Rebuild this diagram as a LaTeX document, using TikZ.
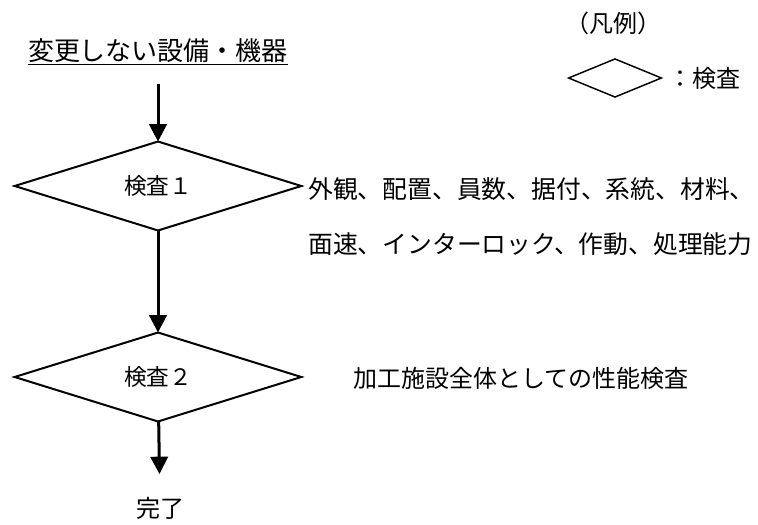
\documentclass[tikz,border=0pt]{standalone}
\usepackage{fontspec}
\setmainfont{Noto Sans CJK JP}
\usetikzlibrary{arrows.meta, shapes.geometric, positioning}

\begin{document}
\begin{tikzpicture}[
  x=0.75pt, y=-0.75pt,
  check/.style={draw, diamond, line width=1.5pt, minimum width=215pt, minimum height=58.5pt, inner sep=0pt, outer sep=0pt, font=\fontsize{17}{20}\selectfont},
  legend/.style={draw, diamond, line width=1.1pt, minimum width=70pt, minimum height=29pt, inner sep=0pt},
  lbl/.style={inner sep=0pt, font=\fontsize{18}{22}\selectfont},
  flow/.style={line width=2.25pt, -{Triangle[width=13pt, length=13pt]}}
]
  \useasboundingbox (0,0) rectangle (758,525);

  \node[lbl, font=\fontsize{19.5}{22}\selectfont] (title) at (158,52) {\underline{変更しない設備・機器}};
  \node[check] (chk1) at (158,186) {検査１};
  \node[check] (chk2) at (158,377) {検査２};
  \node[lbl] (done) at (160,508) {完了};

  \node[lbl, anchor=west, font=\fontsize{18.6}{22}\selectfont] (items1) at (308,189) {外観、配置、員数、据付、系統、材料、};
  \node[lbl, anchor=west, font=\fontsize{18.6}{22}\selectfont] (items2) at (308,244) {面速、インターロック、作動、処理能力};
  \node[lbl, anchor=west] (perf) at (353,378) {加工施設全体としての性能検査};

  % legend
  \node[lbl] (leg) at (613,23) {（凡例）};
  \node[legend] (legbox) at (615,78) {};
  \node[lbl, right=4pt of legbox] (legtxt) {：検査};

  \draw[flow, shorten <=14pt] (title) -- (chk1);
  \draw[flow] (chk1) -- (chk2);
  \draw[flow, shorten >=17pt] (chk2) -- (done);
\end{tikzpicture}
\end{document}
